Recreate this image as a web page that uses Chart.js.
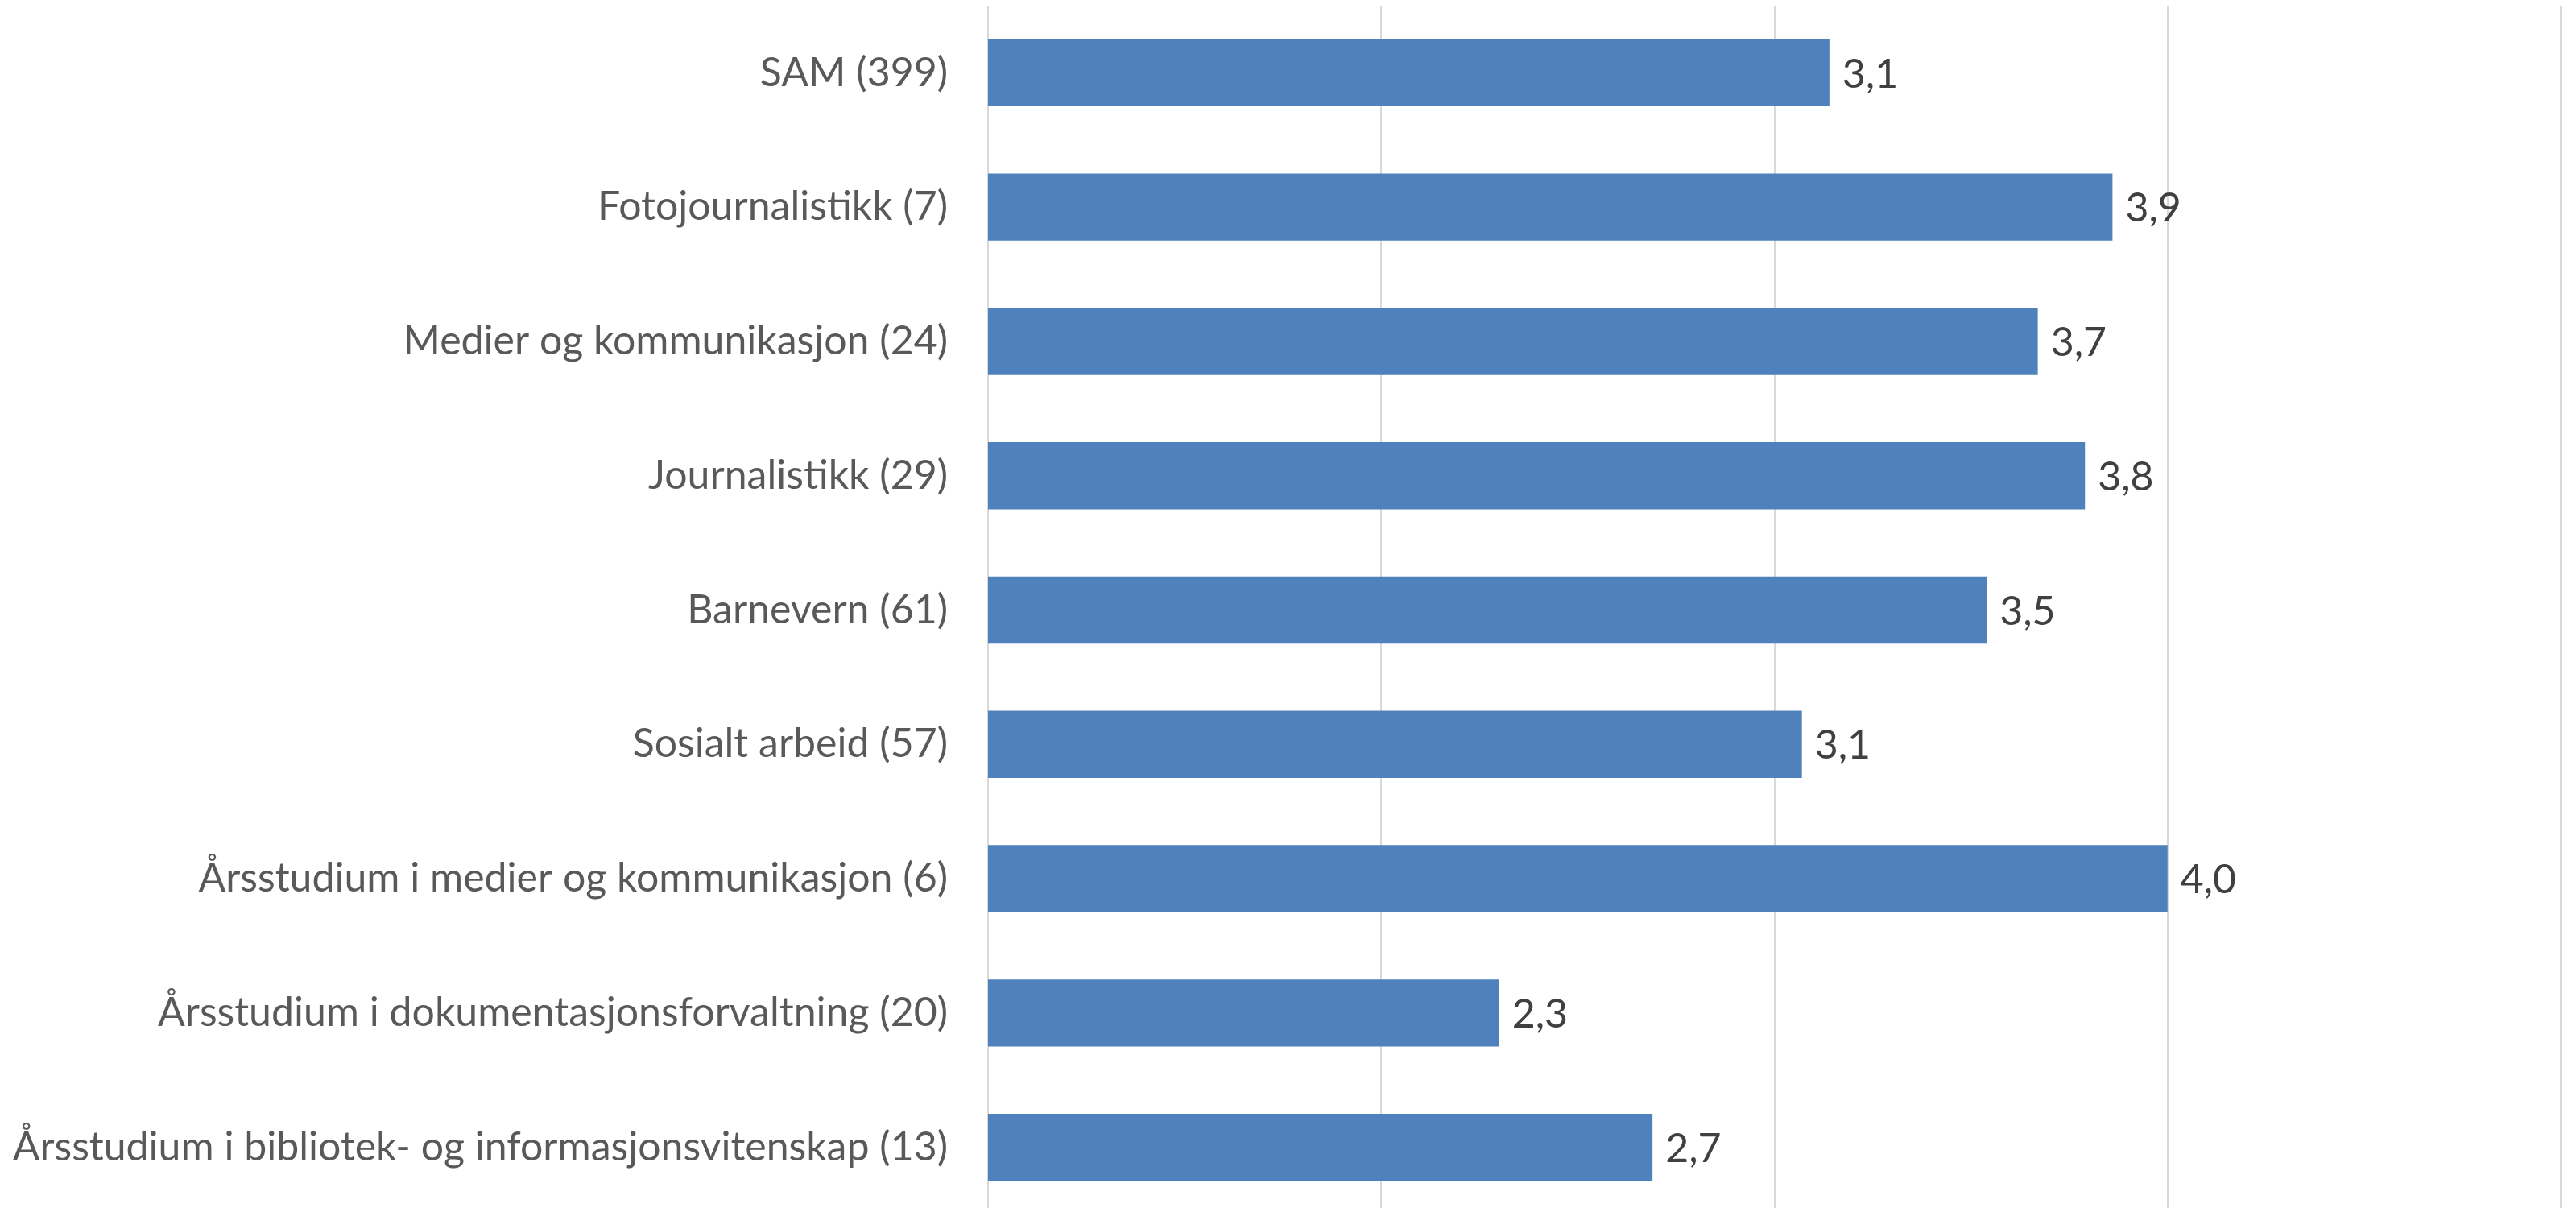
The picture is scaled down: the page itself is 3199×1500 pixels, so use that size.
<!DOCTYPE html>
<html>
<head>
<meta charset="utf-8">
<script src="https://cdn.jsdelivr.net/npm/chart.js@4/dist/chart.umd.min.js"></script>
<style>
  html, body { margin: 0; padding: 0; background: #ffffff; overflow: hidden; }
  #wrap { width: 3199px; height: 1508px; position: relative; }
</style>
</head>
<body>
<div id="wrap"><canvas id="c"></canvas></div>
<script>
const categories = [
  "SAM (399)",
  "Fotojournalistikk (7)",
  "Medier og kommunikasjon (24)",
  "Journalistikk (29)",
  "Barnevern (61)",
  "Sosialt arbeid (57)",
  "Årsstudium i medier og kommunikasjon (6)",
  "Årsstudium i dokumentasjonsforvaltning (20)",
  "Årsstudium i bibliotek- og informasjonsvitenskap (13)"
];
const values = [3.14, 3.86, 3.67, 3.79, 3.54, 3.07, 4.0, 2.30, 2.69];
const axisMin = 1;
const axisMax = 5;

const FONT = "Lato, 'Open Sans', sans-serif";
const FONT_SIZE = 50;

const valueLabels = {
  id: 'valueLabels',
  afterDatasetsDraw(chart) {
    const ctx = chart.ctx;
    const meta = chart.getDatasetMeta(0);
    ctx.save();
    ctx.font = FONT_SIZE + "px " + FONT;
    ctx.fillStyle = "#404040";
    ctx.textAlign = "left";
    ctx.textBaseline = "middle";
    meta.data.forEach((bar, i) => {
      const txt = values[i].toFixed(1).replace('.', ',');
      ctx.fillText(txt, bar.x + 16, bar.y + 2);
    });
    ctx.restore();
  }
};

new Chart(document.getElementById('c'), {
  type: 'bar',
  data: {
    labels: categories,
    datasets: [{
      data: values,
      backgroundColor: '#4f81bd',
      borderWidth: 0,
      barPercentage: 0.5,
      categoryPercentage: 1.0
    }]
  },
  options: {
    indexAxis: 'y',
    responsive: true,
    maintainAspectRatio: false,
    animation: false,
    layout: { padding: { top: 7, right: 19, bottom: 0, left: 0 } },
    plugins: {
      legend: { display: false },
      tooltip: { enabled: false }
    },
    scales: {
      x: {
        min: axisMin,
        max: axisMax,
        ticks: { display: false, stepSize: 1 },
        grid: { color: '#d9d9d9', lineWidth: 2, drawTicks: false },
        border: { display: false },
        afterFit(scale) {
          scale.height = 0;
          scale.paddingLeft = 0; scale.paddingRight = 0;
          scale.paddingTop = 0; scale.paddingBottom = 0;
        }
      },
      y: {
        ticks: {
          color: '#595959',
          font: { family: FONT, size: FONT_SIZE },
          padding: 50
        },
        grid: { display: false, drawTicks: false },
        border: { display: false },
        afterFit(scale) {
          scale.width = 1227;
          scale.paddingTop = 0; scale.paddingBottom = 0;
          scale.paddingLeft = 0; scale.paddingRight = 0;
        }
      }
    }
  },
  plugins: [valueLabels]
});
</script>
</body>
</html>
